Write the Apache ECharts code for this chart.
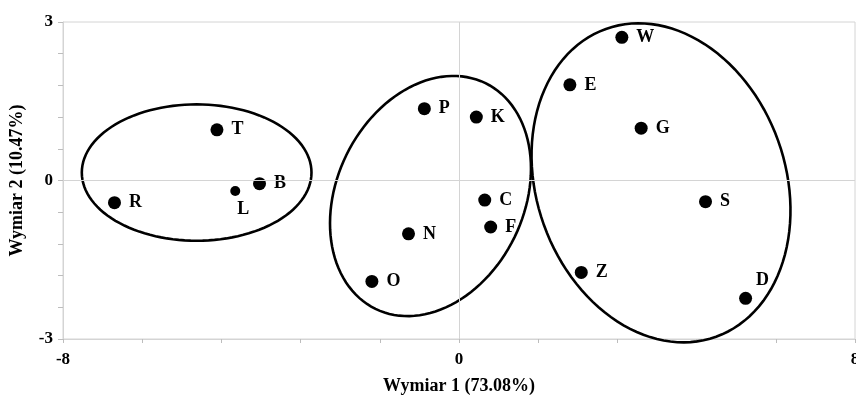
<!DOCTYPE html>
<html><head><meta charset="utf-8">
<script src="https://cdn.jsdelivr.net/npm/echarts@6/dist/echarts.min.js"></script>
<style>html,body{margin:0;padding:0;background:#fff}#c{width:856px;height:395px}</style>
</head><body><div id="c"></div>
<script>
// Data
const names = ['R','T','L','B','P','K','C','F','N','O','W','E','G','S','Z','D'];
const xs    = [-6.96,-4.89,-4.52,-4.03,-0.70,0.35,0.52,0.64,-1.02,-1.76,3.29,2.24,3.68,4.98,2.47,5.79];
const ys    = [-0.42,0.96,-0.20,-0.06,1.36,1.20,-0.37,-0.88,-1.01,-1.91,2.71,1.81,0.99,-0.40,-1.74,-2.23];
const xTickLabels = ['-8','0','8'];
const yTickLabels = ['-3','0','3'];
// cluster ellipses: center (data units) and two semi-axis vectors (data units)
const clusterCenters = [[-5.30,0.15],[-0.576,-0.294],[4.081,-0.044]];
const clusterAxisA   = [[2.32,0],[1.111,2.136],[-1.113,2.913]];
const clusterAxisB   = [[0,1.29],[1.699,-0.777],[2.367,0.795]];

const FONT = '"Liberation Serif","Times New Roman",serif';
const chart = echarts.init(document.getElementById('c'), null, {renderer:'canvas'});

const pts = names.map((n,i)=>{
  const item = {name:n, value:[xs[i],ys[i]]};
  if (n==='L') { item.symbolSize = 10; item.label = {position:'bottom', offset:[8,-4]}; }
  if (n==='D') { item.label = {position:'top', offset:[17,6]}; }
  return item;
});
const ell = clusterCenters.map((c,i)=>[c[0],c[1],clusterAxisA[i][0],clusterAxisA[i][1],clusterAxisB[i][0],clusterAxisB[i][1]]);

function fmt(list){
  return v => { const r = Math.round(v*1000)/1000; const s = String(r===0?0:r); return list.includes(s)?s:''; };
}

chart.setOption({
  animation:false,
  grid:{left:63, right:1, top:22, bottom:56, show:true, borderColor:'#d4d4d4', borderWidth:1, containLabel:false, outerBoundsMode:'none'},
  xAxis:{type:'value', min:-8, max:8, interval:1.6,
    name:'Wymiar 1 (73.08%)', nameLocation:'middle', nameGap:38,
    nameTextStyle:{fontFamily:FONT, fontWeight:'bold', fontSize:18, color:'#000'},
    axisLine:{show:true, onZero:false, lineStyle:{color:'#d4d4d4', width:1}},
    axisTick:{show:true, length:4, lineStyle:{color:'#bdbdbd'}},
    splitLine:{show:false},
    axisLabel:{formatter:fmt(xTickLabels), margin:12, fontFamily:FONT, fontWeight:'bold', fontSize:17, color:'#000', showMinLabel:true, showMaxLabel:true, hideOverlap:false}
  },
  yAxis:{type:'value', min:-3, max:3, interval:0.6,
    name:'Wymiar 2 (10.47%)', nameLocation:'middle', nameGap:37,
    nameTextStyle:{fontFamily:FONT, fontWeight:'bold', fontSize:18, color:'#000'},
    axisLine:{show:true, onZero:false, lineStyle:{color:'#d4d4d4', width:1}},
    axisTick:{show:true, length:5, lineStyle:{color:'#bdbdbd'}},
    splitLine:{show:false},
    axisLabel:{formatter:fmt(yTickLabels), margin:10, fontFamily:FONT, fontWeight:'bold', fontSize:17, color:'#000', showMinLabel:true, showMaxLabel:true, hideOverlap:false}
  },
  series:[
    {type:'scatter', data:pts, symbol:'circle', symbolSize:13, itemStyle:{color:'#000', opacity:1},
      label:{show:true, position:'right', distance:8, formatter:'{b}', fontFamily:FONT, fontWeight:'bold', fontSize:18, color:'#000'},
      emphasis:{disabled:true},
      markLine:{silent:true, symbol:['none','none'], label:{show:false},
        lineStyle:{color:'#d4d4d4', type:'solid', width:1, opacity:1},
        data:[{xAxis:0},{yAxis:0}]},
      z:3
    },
    {type:'custom', data:ell, encode:{x:0,y:1}, clip:false, z:2,
      renderItem:function(params, api){
        const cx=api.value(0), cy=api.value(1), ax=api.value(2), ay=api.value(3), bx=api.value(4), by=api.value(5);
        const p=[];
        const N=120;
        for(let k=0;k<N;k++){
          const t=2*Math.PI*k/N;
          p.push(api.coord([cx+ax*Math.cos(t)+bx*Math.sin(t), cy+ay*Math.cos(t)+by*Math.sin(t)]));
        }
        return {type:'polygon', shape:{points:p, smooth:0}, style:{fill:null, stroke:'#000', lineWidth:2.6}};
      }
    }
  ]
});
</script></body></html>
